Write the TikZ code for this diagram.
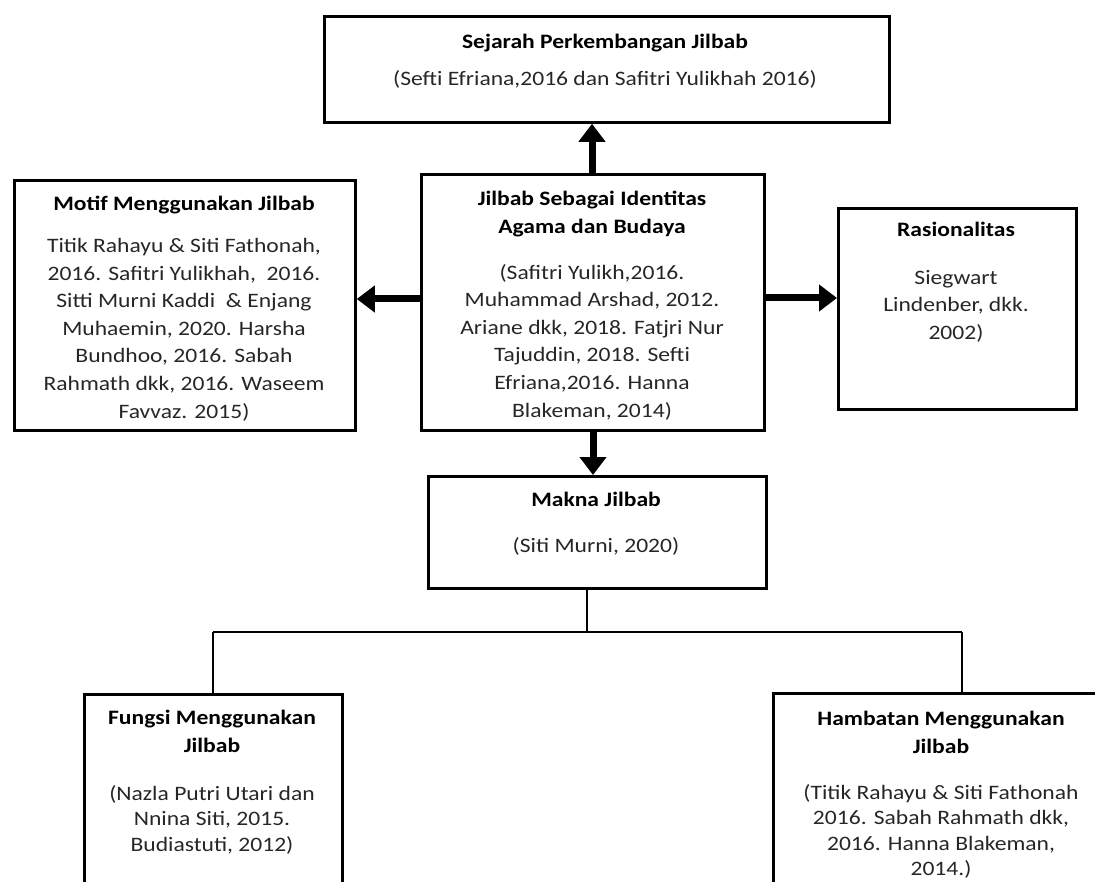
\documentclass[tikz,border=0pt]{standalone}
\usepackage{fontspec}
\setmainfont{Carlito}[FakeStretch=1.15]
\usetikzlibrary{arrows.meta}
\begin{document}
\begin{tikzpicture}[x=1pt,y=-1pt,
  box/.style={draw, line width=2.8pt, inner sep=0pt, anchor=north west},
  body/.style={align=center, font=\fontsize{20.5}{27.6}\selectfont, text=black!85, inner sep=0pt, anchor=north},
  lowbody/.style={body, font=\fontsize{20.5}{25.5}\selectfont},
  ttl/.style={align=center, font=\fontsize{20.5}{28}\selectfont\bfseries, inner sep=0pt, anchor=north},
  arr/.style={-{Triangle[length=18pt,width=26pt]}, line width=7pt},
  con/.style={line width=2.8pt}]
\useasboundingbox (0,0) rectangle (1095,882);
% boxes
\node[box, minimum width=565pt, minimum height=106pt] (sejarah) at (323,15) {};
\node[box, minimum width=343pt, minimum height=256pt] (jilbab) at (420,173) {};
\node[box, minimum width=341pt, minimum height=250pt] (motif) at (13,179) {};
\node[box, minimum width=238pt, minimum height=201pt] (rasio) at (837,207) {};
\node[box, minimum width=338pt, minimum height=112pt] (makna) at (427,475) {};
\node[box, minimum width=258pt, minimum height=220pt] (fungsi) at (83,693) {};
\node[box, minimum width=338pt, minimum height=220pt] (hambatan) at (772,692) {};
% texts
\node[ttl] (t1) at (605,34) {Sejarah Perkembangan Jilbab};
\node[body] (b1) at (605,70) {(Sefti Efriana,2016 dan Safitri Yulikhah 2016)};
\node[ttl] (t2) at (592,191) {Jilbab Sebagai Identitas\\Agama dan Budaya};
\node[body] (b2) at (592,264) {(Safitri Yulikh,2016.\\Muhammad Arshad, 2012.\\Ariane dkk, 2018. Fatjri Nur\\Tajuddin, 2018. Sefti\\Efriana,2016. Hanna\\Blakeman, 2014)};
\node[ttl] (t3) at (184,196) {Motif Menggunakan Jilbab};
\node[body] (b3) at (184,238) {Titik Rahayu \& Siti Fathonah,\\2016. Safitri Yulikhah,\ \ 2016.\\Sitti Murni Kaddi\ \ \& Enjang\\Muhaemin, 2020. Harsha\\Bundhoo, 2016. Sabah\\Rahmath dkk, 2016. Waseem\\Favvaz. 2015)};
\node[ttl] (t4) at (956,222) {Rasionalitas};
\node[body] (b4) at (956,270) {Siegwart\\Lindenber, dkk.\\2002)};
\node[ttl] (t5) at (596,492) {Makna Jilbab};
\node[body] (b5) at (596,537) {(Siti Murni, 2020)};
\node[ttl] (t6) at (212,710) {Fungsi Menggunakan\\Jilbab};
\node[lowbody] (b6) at (212,785) {(Nazla Putri Utari dan\\Nnina Siti, 2015.\\Budiastuti, 2012)};
\node[ttl] (t7) at (941,711) {Hambatan Menggunakan\\Jilbab};
\node[lowbody] (b7) at (941,784) {(Titik Rahayu \& Siti Fathonah\\2016. Sabah Rahmath dkk,\\2016. Hanna Blakeman,\\2014.)};
% arrows
\draw[arr] (jilbab.north -| 592,0) -- (sejarah.south -| 592,0);
\draw[arr] (jilbab.west |- 0,299) -- (motif.east |- 0,299);
\draw[arr] (jilbab.east |- 0,298) -- (rasio.west |- 0,298);
\draw[arr] (jilbab.south -| 593,0) -- (makna.north -| 593,0);
% tree connector
\coordinate (fork) at (587,632);
\coordinate (fl) at (213,632);
\coordinate (fr) at (962,632);
\draw[con] (makna.south -| fork) -- (fork);
\draw[con] (fl) -- (fr);
\draw[con] (fl) -- (fl |- fungsi.north);
\draw[con] (fr) -- (fr |- hambatan.north);
\end{tikzpicture}
\end{document}
